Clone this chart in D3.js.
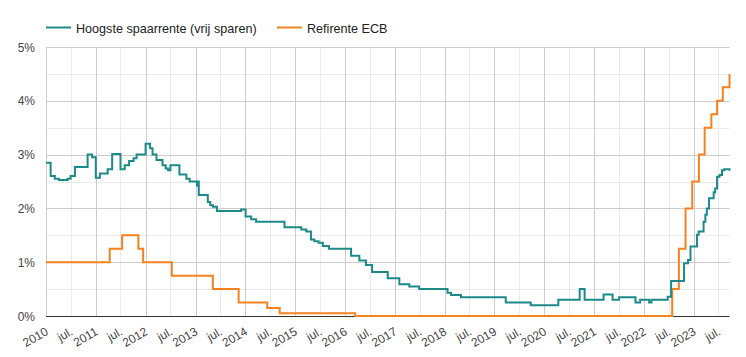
<!DOCTYPE html>
<html><head><meta charset="utf-8">
<script src="https://cdn.jsdelivr.net/npm/d3@7"></script>
<style>body{margin:0;background:#fff;}svg{display:block;font-family:Arial,"Liberation Sans",sans-serif;}</style>
</head><body><svg id="c" width="746" height="357"></svg>
<script>
const seriesNames = ["Hoogste spaarrente (vrij sparen)", "Refirente ECB"];
const seriesColors = ["#1d8a8a", "#f6821f"];

const savingsDates = ["2010-01-01","2010-02-04","2010-03-07","2010-04-05","2010-06-07","2010-06-30","2010-08-01","2010-11-02","2010-12-05","2011-01-01","2011-01-31","2011-03-29","2011-05-01","2011-07-01","2011-08-01","2011-09-02","2011-10-05","2011-10-27","2012-01-01","2012-02-03","2012-02-21","2012-03-21","2012-05-04","2012-05-27","2012-06-14","2012-07-01","2012-09-05","2012-10-26","2012-11-19","2013-01-12","2013-01-16","2013-01-25","2013-04-01","2013-04-19","2013-05-09","2013-06-07","2013-12-01","2014-01-03","2014-02-13","2014-03-21","2014-10-15","2015-02-15","2015-03-24","2015-04-27","2015-05-22","2015-06-22","2015-07-23","2015-09-06","2016-02-15","2016-04-16","2016-06-03","2016-07-18","2016-11-10","2017-02-03","2017-04-17","2017-06-28","2018-01-22","2018-02-17","2018-05-01","2019-03-25","2019-09-24","2020-04-13","2020-09-17","2020-10-23","2021-03-11","2021-05-16","2021-07-03","2021-10-31","2021-12-04","2022-02-08","2022-02-25","2022-06-24","2022-07-19","2022-10-22","2022-11-20","2022-12-08","2023-01-25","2023-02-06","2023-03-14","2023-03-27","2023-04-07","2023-04-23","2023-05-27","2023-06-07","2023-06-21","2023-07-09","2023-07-27","2023-08-13","2023-09-20"];
const savingsValues = [2.85,2.6,2.55,2.53,2.55,2.6,2.77,3.0,2.95,2.57,2.65,2.73,3.01,2.73,2.8,2.88,2.93,3.0,3.2,3.12,3.0,2.9,2.8,2.74,2.71,2.8,2.63,2.55,2.5,2.42,2.5,2.25,2.12,2.06,2.03,1.95,1.98,1.85,1.8,1.75,1.65,1.61,1.57,1.42,1.39,1.36,1.30,1.25,1.12,1.03,0.95,0.82,0.70,0.59,0.55,0.5,0.43,0.39,0.35,0.25,0.2,0.3,0.5,0.3,0.4,0.3,0.35,0.25,0.3,0.25,0.3,0.36,0.65,0.98,1.04,1.29,1.51,1.57,1.75,1.88,2.0,2.19,2.3,2.37,2.59,2.62,2.71,2.73,2.7];

const ecbDates = ["2010-01-01","2011-04-13","2011-07-13","2011-11-09","2011-12-14","2012-07-11","2013-05-08","2013-11-13","2014-06-11","2014-09-10","2016-03-16","2022-07-27","2022-09-14","2022-11-02","2022-12-21","2023-02-08","2023-03-22","2023-05-10","2023-06-21","2023-08-02","2023-09-20"];
const ecbValues = [1.00,1.25,1.50,1.25,1.00,0.75,0.50,0.25,0.15,0.05,0.00,0.50,1.25,2.00,2.50,3.00,3.50,3.75,4.00,4.25,4.50];

const yTicks = [0,1,2,3,4,5];
const yMinorTicks = [0.5,1.5,2.5,3.5,4.5];
const years = [2010,2011,2012,2013,2014,2015,2016,2017,2018,2019,2020,2021,2022,2023];
const midLabel = "jul.";

const parse = d3.timeParse("%Y-%m-%d");
const svg = d3.select("#c");
const L = 46, R = 729.5, T = 47, B = 316;
const x = d3.scaleTime().domain([parse("2010-01-01"), parse("2023-09-20")]).range([L, R]);
const y = d3.scaleLinear().domain([0,5]).range([B, T]);

const yearDates = years.map(v => new Date(v,0,1));
const julDates = years.map(v => new Date(v,6,1)).filter(d => x(d) <= R);

const g = svg.append("g");
g.selectAll(".ymin").data(yMinorTicks).join("line")
  .attr("x1", L).attr("x2", R).attr("y1", d => Math.round(y(d))+0.5).attr("y2", d => Math.round(y(d))+0.5)
  .attr("stroke", "#ebebeb");
g.selectAll(".xmin").data(julDates).join("line")
  .attr("y1", T).attr("y2", B).attr("x1", d => Math.round(x(d))+0.5).attr("x2", d => Math.round(x(d))+0.5)
  .attr("stroke", "#ebebeb");
g.selectAll(".ymaj").data(yTicks.slice(1)).join("line")
  .attr("x1", L).attr("x2", R).attr("y1", d => Math.round(y(d))+0.5).attr("y2", d => Math.round(y(d))+0.5)
  .attr("stroke", "#cccccc");
g.selectAll(".xmaj").data(yearDates).join("line")
  .attr("y1", T).attr("y2", B).attr("x1", d => Math.round(x(d))+0.5).attr("x2", d => Math.round(x(d))+0.5)
  .attr("stroke", "#cccccc");
g.append("line").attr("x1", L).attr("x2", R).attr("y1", Math.round(y(0))+0.5).attr("y2", Math.round(y(0))+0.5)
  .attr("stroke", "#333").attr("stroke-width", 1);

svg.selectAll(".yl").data(yTicks).join("text")
  .attr("x", 35).attr("y", d => y(d) + 4.5).attr("text-anchor", "end")
  .attr("font-size", 12).attr("fill", "#444").text(d => d + "%");

const xl = yearDates.map(d => ({d, t: String(d.getFullYear())})).concat(julDates.map(d => ({d, t: midLabel})));
svg.selectAll(".xl").data(xl).join("text")
  .attr("text-anchor", "end").attr("font-size", 12).attr("fill", "#444")
  .attr("transform", d => `translate(${x(d.d)+3},${334}) rotate(-30)`)
  .text(d => d.t);

const line = d3.line().curve(d3.curveStepAfter).x(d => x(d[0])).y(d => y(d[1]));
const savings = savingsDates.map((d,i) => [parse(d), savingsValues[i]]);
const ecb = ecbDates.map((d,i) => [parse(d), ecbValues[i]]);
svg.append("path").datum(ecb).attr("d", line).attr("fill","none").attr("stroke", seriesColors[1]).attr("stroke-width", 2);
svg.append("path").datum(savings).attr("d", line).attr("fill","none").attr("stroke", seriesColors[0]).attr("stroke-width", 2);

const leg = [{x:46, tx:76}, {x:277, tx:307}];
leg.forEach((p,i) => {
  svg.append("line").attr("x1", p.x).attr("x2", p.x+25).attr("y1", 27.5).attr("y2", 27.5)
    .attr("stroke", seriesColors[i]).attr("stroke-width", 2);
  svg.append("text").attr("x", p.tx).attr("y", 32.5).attr("font-size", 12.6).attr("fill", "#222").text(seriesNames[i]);
});
</script></body></html>
